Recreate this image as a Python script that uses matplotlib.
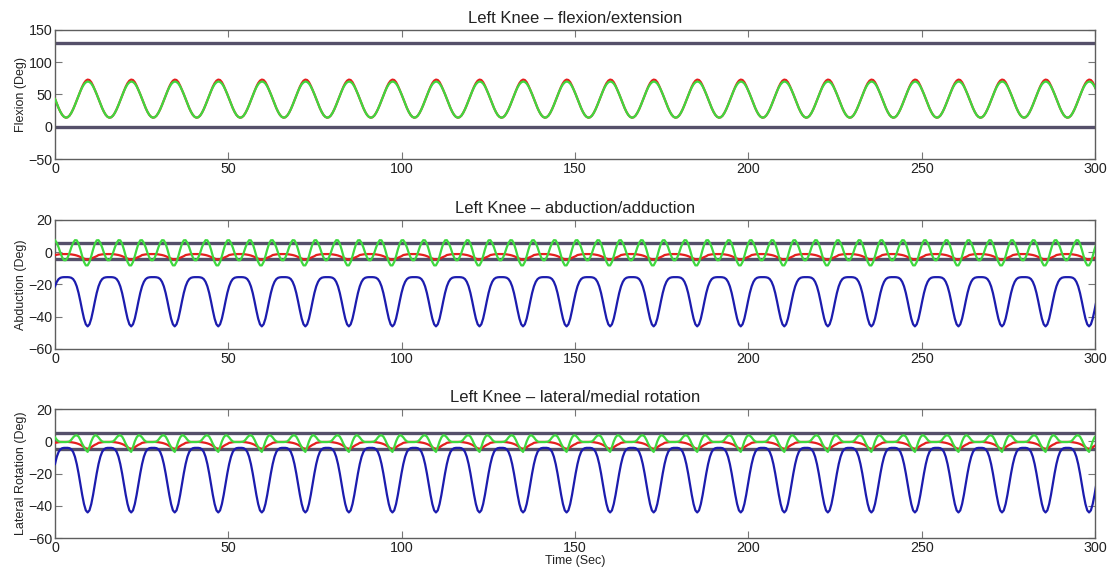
import numpy as np
import matplotlib
matplotlib.use('Agg')
import matplotlib.pyplot as plt

plt.rcParams['font.family'] = ['Liberation Sans', 'DejaVu Sans']
plt.rcParams['axes.unicode_minus'] = True

# one gait cycle = 24 samples, the trial repeats it
CYCLE_SEC = 12.56
N_CYCLES = 24

# ---- flexion / extension (deg) ----
flex_red = [43.1, 35.8, 28.9, 23.0, 18.3, 15.3, 14.0, 14.7, 17.2, 21.5, 27.1, 33.7,
            40.9, 48.2, 55.1, 62.0, 67.5, 71.3, 73.0, 72.3, 69.0, 63.5, 56.9, 50.3]
flex_green = [43.1, 35.8, 28.9, 23.0, 18.3, 15.3, 14.0, 14.7, 17.2, 21.5, 27.1, 33.7,
              40.9, 48.2, 55.1, 61.0, 65.7, 68.7, 70.0, 69.3, 66.8, 62.5, 56.9, 50.3]
flex_limits = [0, 130]

# ---- abduction / adduction (deg) ----
abd_red = [-1.8, -1.6, -1.4, -1.3, -1.2, -1.2, -1.2, -1.2, -1.3, -1.4, -1.6, -1.8,
           -2.1, -2.5, -3.0, -3.5, -4.0, -4.4, -4.6, -4.4, -4.0, -3.5, -3.0, -2.5]
abd_green = [7.4, 5.7, 2.9, -0.5, -3.3, -5.0, -5.0, -3.3, -0.5, 2.9, 5.7, 7.4,
             7.3, 5.2, 1.6, -2.5, -6.1, -8.2, -8.2, -6.1, -2.5, 1.6, 5.2, 7.3]
abd_blue = [-21.2, -18.4, -16.7, -15.9, -15.6, -15.5, -15.5, -15.5, -15.6, -15.9, -16.7, -18.4,
            -21.2, -25.3, -30.5, -36.1, -41.2, -44.7, -46.0, -44.7, -41.2, -36.1, -30.5, -25.3]
abd_limits = [-4.5, 5.5]

# ---- lateral / medial rotation (deg) ----
rot_red = [-0.9, -0.7, -0.5, -0.4, -0.3, -0.3, -0.3, -0.3, -0.4, -0.5, -0.7, -0.9,
           -1.2, -1.6, -2.1, -2.8, -3.6, -4.3, -4.6, -4.3, -3.6, -2.8, -2.1, -1.6]
rot_green = [2.5, 1.0, 0.0, -0.3, -0.4, -0.4, -0.4, -0.3, 0.0, 1.0, 2.5, 3.6,
             3.8, 3.0, 1.0, -1.5, -3.5, -5.3, -6.5, -3.5, 0.0, 2.5, 3.8, 3.6]
rot_blue = [-14.0, -9.5, -6.5, -4.9, -4.2, -4.0, -4.0, -4.0, -4.2, -4.9, -6.5, -9.5,
            -14.0, -19.8, -26.5, -33.1, -38.8, -42.7, -44.0, -42.7, -38.8, -33.1, -26.5, -19.8]
rot_limits = [-4.5, 5.5]

titles = ['Left Knee \u2013 flexion/extension',
          'Left Knee \u2013 abduction/adduction',
          'Left Knee \u2013 lateral/medial rotation']
ylabels = ['Flexion (Deg)', 'Abduction (Deg)', 'Lateral Rotation (Deg)']
ylims = [(-50, 150), (-60, 20), (-60, 20)]
yticks = [[-50, 0, 50, 100, 150], [-60, -40, -20, 0, 20], [-60, -40, -20, 0, 20]]
xticks = [0, 50, 100, 150, 200, 250, 300]

RED = '#e41e1e'
GREEN = '#3fd83f'
BLUE = '#1c1cae'
LIMIT = '#55506a'

n = 24 * N_CYCLES
t = np.arange(n) * CYCLE_SEC / 24


def tile(vals):
    return np.tile(vals, N_CYCLES)


panels = [
    (flex_red, flex_green, None, flex_limits),
    (abd_red, abd_green, abd_blue, abd_limits),
    (rot_red, rot_green, rot_blue, rot_limits),
]

fig = plt.figure(figsize=(11.13, 5.71), dpi=100)
bottoms = [0.7215, 0.3888, 0.0573]

for i, (red, green, blue, limits) in enumerate(panels):
    ax = fig.add_axes([0.0494, bottoms[i], 0.9344, 0.2262])
    for lim in limits:
        ax.plot([0, 300], [lim, lim], color=LIMIT, linewidth=2.4, zorder=2)
    ax.plot(t, tile(red), color=RED, linewidth=1.6, zorder=3)
    ax.plot(t, tile(green), color=GREEN, linewidth=1.6, zorder=4)
    if blue is not None:
        ax.plot(t, tile(blue), color=BLUE, linewidth=1.6, zorder=4)

    ax.set_xlim(0, 300)
    ax.set_ylim(*ylims[i])
    ax.set_xticks(xticks)
    ax.set_yticks(yticks[i])
    ax.tick_params(direction='in', top=True, right=True, length=5, width=0.8,
                   color='#777777', labelsize=10.3, labelcolor='#222222', pad=2)
    for sp in ax.spines.values():
        sp.set_color('#5e5e5e')
        sp.set_linewidth(1.0)
    ax.set_title(titles[i], fontsize=12, color='#222222', pad=5)
    ax.set_ylabel(ylabels[i], fontsize=9, color='#222222', labelpad=1)

ax.set_xlabel('Time (Sec)', fontsize=9, color='#222222', labelpad=0)

fig.savefig('out.png', dpi=100, facecolor='white')
